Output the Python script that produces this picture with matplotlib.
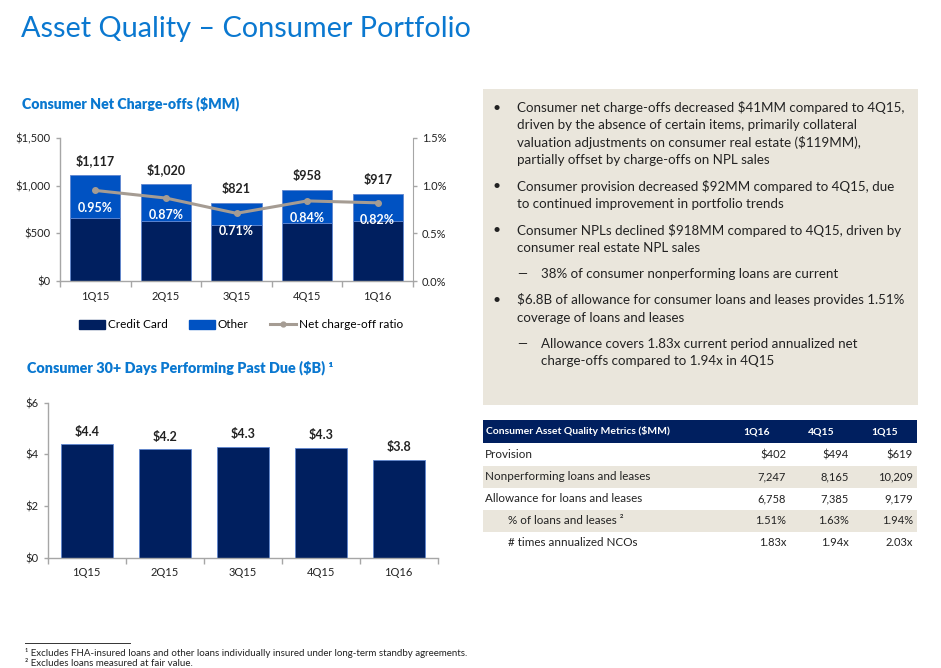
import matplotlib
matplotlib.use("Agg")
import matplotlib.pyplot as plt
from matplotlib.patches import Rectangle, Patch
from matplotlib.lines import Line2D
import numpy as np

plt.rcParams['font.family'] = ['Lato', 'DejaVu Sans']

# ---------------- data ----------------
quarters = ["1Q15", "2Q15", "3Q15", "4Q15", "1Q16"]
credit_card = [664, 632, 590, 604, 632]
nco_total = [1117, 1020, 821, 958, 917]
other = [t - c for t, c in zip(nco_total, credit_card)]
nco_ratio = [0.95, 0.87, 0.71, 0.84, 0.82]
total_labels = ["$1,117", "$1,020", "$821", "$958", "$917"]

past_due = [4.4, 4.2, 4.3, 4.25, 3.8]
past_due_labels = ["$4.4", "$4.2", "$4.3", "$4.3", "$3.8"]

table_header = ["Consumer Asset Quality Metrics ($MM)", "1Q16", "4Q15", "1Q15"]
table_rows = ["Provision", "Nonperforming loans and leases", "Allowance for loans and leases",
              "% of loans and leases \u00b2", "# times annualized NCOs"]
table_indent = [False, False, False, True, True]
col_1q16 = ["$402", "7,247", "6,758", "1.51%", "1.83x"]
col_4q15 = ["$494", "8,165", "7,385", "1.63%", "1.94x"]
col_1q15 = ["$619", "10,209", "9,179", "1.94%", "2.03x"]

bullets = [
    ("b", ["Consumer net charge-offs decreased $41MM compared to 4Q15,",
           "driven by the absence of certain items, primarily collateral",
           "valuation adjustments on consumer real estate ($119MM),",
           "partially offset by charge-offs on NPL sales"]),
    ("b", ["Consumer provision decreased $92MM compared to 4Q15, due",
           "to continued improvement in portfolio trends"]),
    ("b", ["Consumer NPLs declined $918MM compared to 4Q15, driven by",
           "consumer real estate NPL sales"]),
    ("d", ["38% of consumer nonperforming loans are current"]),
    ("b", ["$6.8B of allowance for consumer loans and leases provides 1.51%",
           "coverage of loans and leases"]),
    ("d", ["Allowance covers 1.83x current period annualized net",
           "charge-offs compared to 1.94x in 4Q15"]),
]
footnotes = ["\u00b9 Excludes FHA-insured loans and other loans individually insured under long-term standby agreements.",
             "\u00b2 Excludes loans measured at fair value."]

# ---------------- style ----------------
W, H = 941, 668
TITLE_BLUE = "#0A78D0"
SUB_BLUE = "#0A78D0"
NAVY = "#001F5F"
OTHER_BLUE = "#0052C2"
EDGE = "#5F86D0"
LINE_GREY = "#A59C93"
AX_GREY = "#A6A6A6"
TXT = "#222222"
BEIGE = "#EAE6DC"

fig = plt.figure(figsize=(W / 100, H / 100), dpi=100)

def fx(px):
    return px / W

def fy(py):
    return 1 - py / H

def style_axis(ax):
    ax.spines["top"].set_visible(False)
    ax.spines["right"].set_visible(False)
    for s in ["left", "bottom"]:
        ax.spines[s].set_color(AX_GREY)
        ax.spines[s].set_linewidth(1.0)
    ax.tick_params(axis="y", colors=AX_GREY, labelcolor=TXT, length=3, width=1, labelsize=8)
    ax.tick_params(axis="x", which="major", length=0, labelcolor=TXT, labelsize=8, pad=7)
    ax.tick_params(axis="x", which="minor", length=4, width=1, colors=AX_GREY)
    ax.set_xticks(np.arange(-0.5, len(quarters), 1.0), minor=True)

# ---------------- top chart ----------------
ax1 = fig.add_axes([fx(60), fy(281), fx(413 - 60), fy(138) - fy(281)])
x = np.arange(len(quarters))
ax1.bar(x, credit_card, width=0.71, color=NAVY, edgecolor=EDGE, linewidth=0.6, zorder=2)
ax1.bar(x, other, width=0.71, bottom=credit_card, color=OTHER_BLUE, edgecolor=EDGE, linewidth=0.6, zorder=2)
ax1.set_xlim(-0.5, len(quarters) - 0.5)
ax1.set_ylim(0, 1500)
ax1.set_yticks([0, 500, 1000, 1500])
ax1.set_yticklabels(["$0", "$500", "$1,000", "$1,500"])
ax1.set_xticks(x)
ax1.set_xticklabels(quarters)
style_axis(ax1)
for xi, t, lab in zip(x, nco_total, total_labels):
    ax1.annotate(lab, (xi, t), xytext=(0, 10), textcoords="offset points",
                 ha="center", va="center", fontsize=9, fontweight="bold", color=TXT)

ax1r = ax1.twinx()
ax1r.plot(x, nco_ratio, color=LINE_GREY, lw=2.2, marker="o", ms=4, zorder=5)
ax1r.set_ylim(0, 1.5)
ax1r.set_yticks([0, 0.5, 1.0, 1.5])
ax1r.set_yticklabels(["0.0%", "0.5%", "1.0%", "1.5%"])
for s in ["top", "left", "bottom"]:
    ax1r.spines[s].set_visible(False)
ax1r.spines["right"].set_color(AX_GREY)
ax1r.tick_params(axis="y", colors=AX_GREY, labelcolor=TXT, length=3, width=1, labelsize=8)
for xi, r in zip(x, nco_ratio):
    ax1r.annotate(f"{r:.2f}%", (xi, r), xytext=(0, -12.5), textcoords="offset points",
                  ha="center", va="center", fontsize=9, fontweight="bold", color="white")

handles = [Patch(facecolor=NAVY, edgecolor=NAVY), Patch(facecolor=OTHER_BLUE, edgecolor=OTHER_BLUE),
           Line2D([0], [0], color=LINE_GREY, lw=2.2, marker="o", ms=3.5)]
fig.legend(handles, ["Credit Card", "Other", "Net charge-off ratio"], loc="center",
           bbox_to_anchor=(fx(241), fy(325)), ncol=3, frameon=False, fontsize=8.5,
           handlelength=2.2, handleheight=0.8, handletextpad=0.25, columnspacing=1.8)

# ---------------- bottom chart ----------------
ax2 = fig.add_axes([fx(47.7), fy(557.7), fx(390), fy(402.7) - fy(557.7)])
ax2.bar(x, past_due, width=0.667, color=NAVY, edgecolor=EDGE, linewidth=0.6, zorder=2)
ax2.set_xlim(-0.5, len(quarters) - 0.5)
ax2.set_ylim(0, 6)
ax2.set_yticks([0, 2, 4, 6])
ax2.set_yticklabels(["$0", "$2", "$4", "$6"])
ax2.set_xticks(x)
ax2.set_xticklabels(quarters)
style_axis(ax2)
for xi, v, lab in zip(x, past_due, past_due_labels):
    ax2.annotate(lab, (xi, v), xytext=(0, 9), textcoords="offset points",
                 ha="center", va="center", fontsize=9, fontweight="bold", color=TXT)

# ---------------- overlay for text ----------------
ov = fig.add_axes([0, 0, 1, 1], zorder=-1)
ov.set_xlim(0, W)
ov.set_ylim(H, 0)
ov.axis("off")

fig.text(fx(21), fy(29), "Asset Quality – Consumer Portfolio", fontsize=20.8, color=TITLE_BLUE,
         ha="left", va="center")
fig.text(fx(22), fy(104), "Consumer Net Charge-offs ($MM)", fontsize=10.2, fontweight="heavy",
         color=SUB_BLUE, ha="left", va="center")
fig.text(fx(27), fy(368), "Consumer 30+ Days Performing Past Due ($B) \u00b9", fontsize=10.4,
         fontweight="heavy", color=SUB_BLUE, ha="left", va="center")

# text box
ov.add_patch(Rectangle((483, 89), 435, 316, facecolor=BEIGE, edgecolor="none"))
y = 107.5
for kind, lines in bullets:
    if kind == "b":
        ov.text(497, y, "•", fontsize=10, ha="center", va="center", color=TXT)
        tx = 517
    else:
        ov.text(522, y, "—", fontsize=9, ha="center", va="center", color=TXT)
        tx = 541
    for ln in lines:
        ov.text(tx, y, ln, fontsize=9.6, ha="left", va="center", color=TXT)
        y += 17.6
    y += 8.5

# table
ov.add_patch(Rectangle((483, 420), 434, 22.7, facecolor=NAVY, edgecolor="none"))
ov.text(486, 431.5, table_header[0], fontsize=7.5, fontweight="bold", color="white", ha="left", va="center")
for cx, h in zip([757, 821, 885], table_header[1:]):
    ov.text(cx, 431.5, h, fontsize=7.5, fontweight="bold", color="white", ha="center", va="center")
row_y = [455, 476.5, 498.5, 520.5, 542.5]
for i, (ry, name, ind) in enumerate(zip(row_y, table_rows, table_indent)):
    if i % 2 == 1:
        ov.add_patch(Rectangle((483, ry - 11), 434, 22, facecolor=BEIGE, edgecolor="none"))
    ov.text(508 if ind else 485, ry, name, fontsize=8.4, color=TXT, ha="left", va="center")
    for rx, col in zip([786, 849, 913], [col_1q16, col_4q15, col_1q15]):
        ov.text(rx, ry, col[i], fontsize=8, color=TXT, ha="right", va="center")

# footnotes
ov.plot([25, 130], [643, 643], color="#333333", lw=0.7)
ov.text(25, 652.5, footnotes[0], fontsize=7, color=TXT, ha="left", va="center")
ov.text(25, 663.5, footnotes[1], fontsize=7, color=TXT, ha="left", va="center")

fig.savefig("out.png", dpi=100)
